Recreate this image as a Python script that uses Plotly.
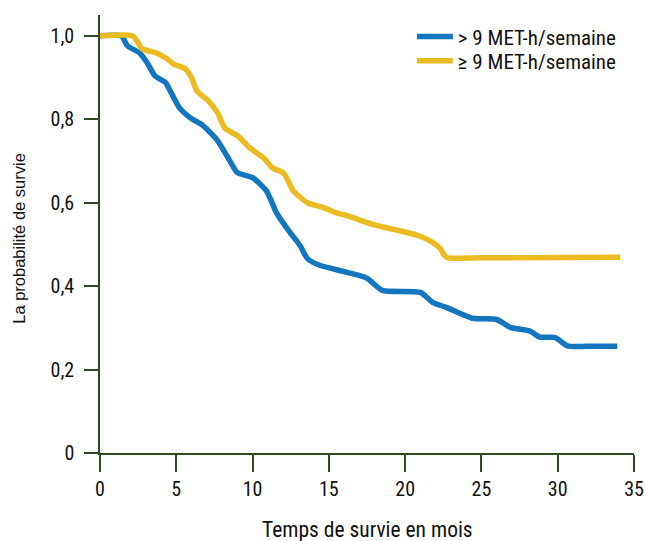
import plotly.graph_objects as go

# Blue series: > 9 MET-h/semaine
t_blue = [0, 1.4, 1.8, 2.6, 3.1, 3.6, 4.3, 4.6, 5.2, 5.9, 6.75, 7.7, 8.5, 9.0, 10.0, 10.9, 11.5, 11.8,
          12.45, 13.1, 13.6, 14.4, 16.2, 17.5, 18.5, 21.0, 21.8, 22.7, 24.4, 26.0, 26.9, 28.2, 28.8,
          29.8, 30.7, 31.9, 33.9]
s_blue = [1.0, 1.0, 0.976, 0.959, 0.935, 0.904, 0.888, 0.868, 0.828, 0.804, 0.785, 0.749, 0.701, 0.672,
          0.660, 0.629, 0.581, 0.562, 0.529, 0.498, 0.466, 0.450, 0.433, 0.419, 0.390, 0.385, 0.361,
          0.349, 0.323, 0.320, 0.301, 0.292, 0.278, 0.277, 0.256, 0.256, 0.256]

# Yellow series: ≥ 9 MET-h/semaine
t_yel = [0, 2.15, 2.5, 2.75, 3.7, 4.4, 4.8, 5.6, 6.0, 6.35, 7.1, 7.7, 8.2, 9.0, 9.8, 10.7, 11.3, 12.0,
         12.3, 12.65, 13.6, 14.6, 15.4, 16.2, 17.7, 19.0, 20.8, 21.8, 22.3, 22.7, 24.9, 34.1]
s_yel = [1.0, 1.0, 0.983, 0.969, 0.959, 0.945, 0.933, 0.921, 0.9, 0.868, 0.844, 0.816, 0.778, 0.761,
         0.732, 0.708, 0.684, 0.672, 0.655, 0.629, 0.600, 0.589, 0.577, 0.569, 0.550, 0.538, 0.522,
         0.505, 0.490, 0.469, 0.468, 0.469]

names = ["> 9 MET-h/semaine", "≥ 9 MET-h/semaine"]
x_ticks = [0, 5, 10, 15, 20, 25, 30, 35]
y_ticks = [0, 0.2, 0.4, 0.6, 0.8, 1.0]
y_ticktext = ["0", "0,2", "0,4", "0,6", "0,8", "1,0"]
x_title = "Temps de survie en mois"
y_title = "La probabilité de survie"

NARROW = "Liberation Sans Narrow, Roboto Condensed, Arial Narrow, sans-serif"
REG = "Liberation Sans, Arial, sans-serif"
AX = "#2e4a25"
TXT = "#111111"

fig = go.Figure()
fig.add_trace(go.Scatter(x=t_blue, y=s_blue, mode="lines", name=names[0], legend="legend",
                         line=dict(color="#1376be", width=5.5, shape="spline", smoothing=0.6)))
fig.add_trace(go.Scatter(x=t_yel, y=s_yel, mode="lines", name=names[1], legend="legend2",
                         line=dict(color="#ebbb22", width=5.5, shape="spline", smoothing=0.6)))

leg_common = dict(xanchor="left", yanchor="middle", bgcolor="rgba(0,0,0,0)",
                  font=dict(family=NARROW, size=21, color=TXT), itemwidth=36)

fig.update_layout(
    width=645, height=541,
    margin=dict(l=100, r=11, t=15, b=88),
    paper_bgcolor="white", plot_bgcolor="white",
    font=dict(family=NARROW, size=20, color=TXT),
    showlegend=True,
    legend=dict(x=0.584, y=0.950, **leg_common),
    legend2=dict(x=0.584, y=0.895, **leg_common),
    xaxis=dict(range=[0, 35], tickvals=x_ticks, ticks="outside", ticklen=17, tickwidth=1.5,
               tickcolor=AX, showline=True, linecolor=AX, linewidth=1.5, showgrid=False,
               zeroline=False, automargin=False, tickfont=dict(family=NARROW, size=20, color=TXT)),
    yaxis=dict(range=[0, 1.05], tickvals=y_ticks, ticktext=y_ticktext, ticks="outside", ticklen=14,
               tickwidth=1.5, tickcolor=AX, showline=True, linecolor=AX, linewidth=1.5,
               showgrid=False, zeroline=False, automargin=False, ticklabelstandoff=6,
               tickfont=dict(family=NARROW, size=20, color=TXT)),
    annotations=[
        dict(text=x_title, xref="paper", yref="paper", x=0.5, y=-0.174, xanchor="center",
             yanchor="middle", showarrow=False, font=dict(family=NARROW, size=21.5, color=TXT)),
        dict(text=y_title, xref="paper", yref="paper", x=-0.152, y=0.491, xanchor="center",
             yanchor="middle", textangle=-90, showarrow=False,
             font=dict(family=REG, size=16.5, color=TXT)),
    ],
)

fig.write_html("out.html", config={"displayModeBar": False},
               post_script="document.body.style.margin='0px';document.body.style.padding='0px';")
